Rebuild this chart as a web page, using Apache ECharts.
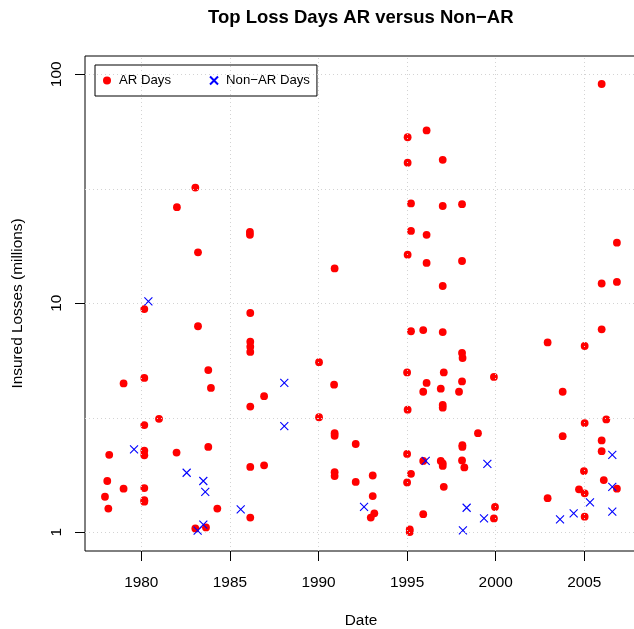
<!DOCTYPE html>
<html>
<head>
<meta charset="utf-8">
<script src="https://cdn.jsdelivr.net/npm/echarts@6/dist/echarts.min.js"></script>
<style>
html,body{margin:0;padding:0;background:#fff;}
#chart{width:634px;height:629px;}
</style>
</head>
<body>
<div id="chart"></div>
<script>
// ---- data (decimal year, insured losses in millions) ----
var arDates = [
  1983.05, 1982.01, 1986.13, 1986.13, 1983.20, 1990.91,
  1980.17, 1986.15, 1983.20, 1986.15, 1986.15, 1986.15, 1990.03, 1983.78, 1979.00, 1980.17,
  1990.88, 1983.93, 1986.93, 1986.15, 1990.03, 1981.00, 1980.17, 1990.91, 1990.91, 1992.10,
  1983.78, 1978.19, 1980.17, 1980.17, 1981.99, 1986.15, 1986.93, 1978.08, 1979.00, 1980.17,
  1977.95, 1978.14, 1980.17, 1980.17, 1984.29, 1986.15, 1990.91, 1990.91, 1992.10, 1983.05, 1983.65,
  2005.98, 1996.10, 1995.03, 1995.03, 1997.01, 1995.22, 1997.01, 1998.10, 1995.22, 1996.10,
  1995.03, 1996.10, 1998.10, 1997.01, 2006.84, 2005.98, 2006.84,
  1995.22, 1995.91, 1997.01, 1998.10, 1998.13, 1995.00, 1997.07, 1996.10, 1995.91, 1996.90,
  1997.93, 1998.10, 1999.90, 1997.01, 1997.01, 1995.03, 1999.00, 1998.12, 1998.12, 1995.00,
  1995.91, 1996.90, 1997.01, 1997.01, 1998.10, 1998.23, 1995.22, 1995.00, 1997.07, 1995.91,
  1999.96, 1999.90, 1995.15, 1995.15, 1993.06, 1993.06, 1993.15, 1992.95,
  2002.93, 2005.02, 2005.98, 2003.78, 2005.02, 2006.24, 2003.78, 2005.98, 2005.98, 2004.98,
  2006.10, 2006.84, 2002.93, 2004.70, 2005.02, 2005.02
];
var arLosses = [
  32.0, 26.3, 20.5, 19.9, 16.7, 14.2,
  9.44, 9.07, 7.94, 6.80, 6.46, 6.13, 5.53, 5.11, 4.47, 4.72,
  4.41, 4.27, 3.93, 3.54, 3.18, 3.13, 2.94, 2.71, 2.64, 2.43,
  2.36, 2.18, 2.27, 2.17, 2.23, 1.93, 1.96, 1.675, 1.55, 1.56,
  1.43, 1.27, 1.38, 1.36, 1.27, 1.16, 1.76, 1.83, 1.66, 1.04, 1.05,
  90.7, 56.9, 53.1, 41.1, 42.3, 27.3, 26.6, 27.1, 20.7, 19.9,
  16.3, 15.0, 15.3, 11.9, 18.4, 12.2, 12.4,
  7.55, 7.64, 7.49, 6.07, 5.77, 4.99, 4.99, 4.49, 4.11, 4.24,
  4.11, 4.56, 4.77, 3.60, 3.50, 3.43, 2.71, 2.40, 2.36, 2.20,
  2.05, 2.05, 2.00, 1.95, 2.06, 1.92, 1.80, 1.65, 1.58, 1.20,
  1.29, 1.15, 1.03, 1.003, 1.77, 1.44, 1.21, 1.16,
  6.75, 6.51, 7.70, 4.11, 3.00, 3.11, 2.63, 2.52, 2.26, 1.85,
  1.69, 1.55, 1.41, 1.54, 1.48, 1.17
];
var nonArDates = [
  1980.40, 1988.07, 1988.07, 1979.59, 1982.56, 1983.50, 1983.61, 1985.61, 1983.50, 1983.18,
  1992.57, 1996.05, 1998.36, 1998.15, 1999.34, 1999.53, 2003.63, 2004.40, 2005.32,
  2006.58, 2006.58, 2006.58
];
var nonArLosses = [
  10.2, 4.49, 2.91, 2.30, 1.82, 1.675, 1.50, 1.26, 1.08, 1.016,
  1.29, 2.05, 1.28, 1.02, 1.15, 1.99, 1.14, 1.21, 1.35,
  2.18, 1.58, 1.23
];
var xTickValues = [1980, 1985, 1990, 1995, 2000, 2005];
var yTickValues = [1, 10, 100];
var yGridValues = [1, 3.1623, 10, 31.623, 100];
var seriesNames = ['AR Days', 'Non\u2212AR Days'];

// ---- chart ----
var FONT = '"Liberation Sans", Arial, Helvetica, sans-serif';
function pairs(xs, ys) { return xs.map(function (x, i) { return [x, ys[i]]; }); }
var X_PATH = 'path://M0,0L10,10M10,0L0,10';

var chart = echarts.init(document.getElementById('chart'), null, {renderer: 'canvas'});
chart.setOption({
  animation: false,
  backgroundColor: '#ffffff',
  textStyle: {fontFamily: FONT, color: '#000'},
  title: {
    text: 'Top Loss Days AR versus Non\u2212AR',
    left: 208, top: 8, padding: 0,
    textStyle: {fontFamily: FONT, fontSize: 18.5, fontWeight: 'bold', color: '#000'}
  },
  legend: {
    left: 95, top: 65,
    orient: 'horizontal',
    padding: [9, 7, 9, 8],
    itemWidth: 14, itemHeight: 8, itemGap: 38,
    borderColor: '#000', borderWidth: 1, borderRadius: 0,
    backgroundColor: '#fff',
    textStyle: {fontFamily: FONT, fontSize: 13.2, color: '#000'},
    data: [
      {name: seriesNames[0], icon: 'circle'},
      {name: seriesNames[1], icon: X_PATH}
    ],
    selectedMode: false
  },
  grid: {
    left: 85, right: -3, top: 56, bottom: 78,
    outerBoundsMode: 'none',
    containLabel: false,
    show: true, borderColor: '#000', borderWidth: 1, backgroundColor: 'transparent'
  },
  xAxis: {
    type: 'value',
    min: 1976.823, max: 2007.974,
    name: 'Date', nameLocation: 'middle', nameGap: 62,
    nameTextStyle: {fontFamily: FONT, fontSize: 15.4, color: '#000'},
    axisLine: {show: false},
    axisTick: {show: true, inside: false, length: 10, customValues: xTickValues, lineStyle: {color: '#000'}},
    axisLabel: {show: true, margin: 24, customValues: xTickValues, fontFamily: FONT, fontSize: 15.4, color: '#000',
      formatter: function (v) { return String(v); }},
    splitLine: {show: false}
  },
  yAxis: {
    type: 'log', logBase: 10,
    min: 0.8286, max: 120.2,
    name: 'Insured Losses (millions)', nameLocation: 'middle', nameGap: 60,
    nameTextStyle: {fontFamily: FONT, fontSize: 15.4, color: '#000'},
    axisLine: {show: false},
    axisTick: {show: true, inside: false, length: 10, customValues: yTickValues, lineStyle: {color: '#000'}},
    axisLabel: {show: true, margin: 21, rotate: 90, customValues: yTickValues, fontFamily: FONT, fontSize: 15.4, color: '#000',
      formatter: function (v) { return String(v); }},
    splitLine: {show: false}
  },
  series: [
    {
      name: 'grid', type: 'scatter', data: [], z: 1, silent: true,
      markLine: {
        silent: true, symbol: 'none', animation: false,
        label: {show: false},
        lineStyle: {color: '#d3d3d3', width: 1, type: [1, 3]},
        data: xTickValues.map(function (v) { return {xAxis: v}; })
          .concat(yGridValues.map(function (v) { return {yAxis: v}; }))
      }
    },
    {
      name: seriesNames[0], type: 'scatter', z: 3,
      symbol: 'circle', symbolSize: 7.8,
      itemStyle: {color: '#ff0000', opacity: 1},
      data: pairs(arDates, arLosses)
    },
    {
      name: seriesNames[1], type: 'scatter', z: 4,
      symbol: X_PATH, symbolSize: 8,
      itemStyle: {color: 'rgba(0,0,0,0)', borderColor: '#0000ff', borderWidth: 1.1, opacity: 1},
      data: pairs(nonArDates, nonArLosses)
    }
  ]
});
</script>
</body>
</html>
